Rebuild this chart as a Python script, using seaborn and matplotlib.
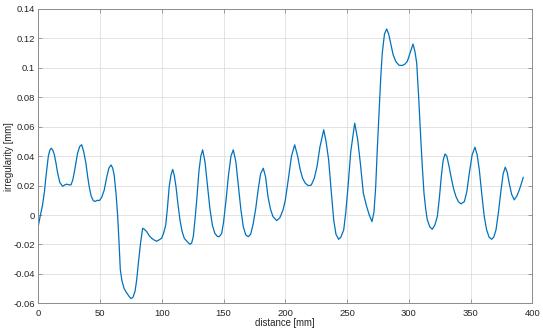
import matplotlib
matplotlib.use("Agg")
import matplotlib.pyplot as plt
import seaborn as sns
import pandas as pd
from matplotlib.ticker import FuncFormatter

# distance [mm]
distance = [
    0, 1.5, 3.5, 5, 6.2, 7.2, 8.1, 9.3, 10.5, 11.8, 13, 14.4, 15.7, 17.5, 19.7,
    21.5, 23, 24.8, 26.5, 28, 30, 31.8, 33.5, 35.1, 36.8, 38.6, 40, 41.3, 42.8,
    44.5, 46, 47.7, 49.4, 51.4, 53.4, 55.5, 57.2, 58.9, 60.2, 61.5, 63, 64.3,
    65.4, 66.4, 67.8, 69.5, 71.6, 73.3, 75, 76.6, 78.3, 79.7, 81, 82.8, 84.5,
    86, 87.8, 89.8, 91.8, 93.8, 95.9, 98, 99.9, 101.6, 103.2, 104.6, 106, 107.4,
    108.8, 110.1, 111.5, 113, 114.7, 116.4, 118.2, 120.5, 122.8, 124.2, 125.5,
    126.9, 128.3, 130.1, 131.6, 133.1, 135, 137, 139, 141, 143, 145, 146.6,
    148.5, 150, 152, 154, 156, 157.9, 160, 162, 164, 166, 168, 170, 172, 174,
    176, 178, 180, 182.2, 184, 186, 188, 190, 193, 195.5, 198, 200, 202.4, 205,
    207.6, 210, 212.1, 214, 216.2, 218.5, 221, 223.5, 225.7, 228, 231.1, 233,
    235.1, 237, 239.2, 241, 243.2, 245, 247.3, 249, 250.8, 253, 256.2, 258.5,
    260.8, 263.2, 265.9, 268, 270.2, 271.8, 273.2, 274.5, 275.9, 277.2, 278.5,
    280.3, 282.1, 283.7, 285.3, 287.3, 289.4, 292, 294.7, 296.8, 298.8, 301,
    303.4, 305, 306.4, 308, 309.6, 311, 312.3, 313.7, 315, 317, 319, 321, 323.1,
    324.8, 326.3, 327.8, 329.3, 330.8, 332.6, 334.2, 336.2, 338.2, 340.2, 342.3,
    345, 347, 349, 351.3, 353.6, 355.3, 357.1, 359, 361.1, 363, 365, 367.1,
    368.8, 370.6, 372.6, 374.7, 376.4, 378.1, 379.7, 381.3, 383.3, 385.4, 387.5,
    389.5, 391, 392.7,
]

# irregularity [mm]
irregularity = [
    -0.0075, -0.001, 0.007, 0.016, 0.026, 0.033, 0.0397, 0.044, 0.0454, 0.044,
    0.041, 0.035, 0.0284, 0.022, 0.0195, 0.0205, 0.021, 0.0205, 0.0205, 0.024,
    0.033, 0.042, 0.0465, 0.0478, 0.043, 0.035, 0.026, 0.019, 0.013, 0.0098,
    0.0092, 0.0100, 0.0098, 0.012, 0.017, 0.026, 0.032, 0.034, 0.032, 0.027,
    0.014, -0.001, -0.019, -0.037, -0.045, -0.050, -0.053, -0.055, -0.0568,
    -0.056, -0.052, -0.044, -0.033, -0.019, -0.009, -0.0098, -0.0113, -0.014,
    -0.0158, -0.017, -0.0178, -0.0168, -0.0158, -0.012, -0.0067, 0.005, 0.0193,
    0.027, 0.031, 0.027, 0.0193, 0.008, -0.0033, -0.011, -0.0158, -0.018,
    -0.0199, -0.019, -0.0147, -0.003, 0.0103, 0.030, 0.040, 0.0443, 0.036,
    0.020, 0.004, -0.007, -0.0125, -0.0145, -0.0147, -0.0124, -0.005, 0.010,
    0.027, 0.040, 0.0443, 0.036, 0.020, 0.004, -0.008, -0.0135, -0.0147, -0.013,
    -0.006, 0.004, 0.017, 0.028, 0.0318, 0.026, 0.0125, 0.004, -0.001, -0.0038,
    -0.002, 0.003, 0.010, 0.024, 0.040, 0.0477, 0.040, 0.0307, 0.025, 0.0216,
    0.020, 0.0203, 0.025, 0.033, 0.046, 0.0579, 0.050, 0.0375, 0.018, -0.0033,
    -0.013, -0.0165, -0.015, -0.0101, 0.002, 0.0193, 0.043, 0.0624, 0.052,
    0.035, 0.0148, 0.0057, 0.000, -0.0045, 0.002, 0.0193, 0.045, 0.0692, 0.092,
    0.110, 0.123, 0.1264, 0.123, 0.1169, 0.109, 0.1044, 0.1018, 0.1016, 0.1025,
    0.1044, 0.110, 0.1162, 0.111, 0.1033, 0.080, 0.0533, 0.032, 0.0148, 0.004,
    -0.0033, -0.008, -0.0097, -0.007, -0.0011, 0.012, 0.0261, 0.037, 0.0415,
    0.040, 0.033, 0.0261, 0.018, 0.0125, 0.009, 0.0076, 0.0091, 0.016, 0.0284,
    0.041, 0.0461, 0.041, 0.0307, 0.015, -0.0011, -0.010, -0.015, -0.0165,
    -0.015, -0.0101, 0.002, 0.0171, 0.028, 0.0325, 0.029, 0.0216, 0.014, 0.0103,
    0.013, 0.0171, 0.021, 0.0257,
]

x_ticks = [0, 50, 100, 150, 200, 250, 300, 350, 400]
y_ticks = [-0.06, -0.04, -0.02, 0, 0.02, 0.04, 0.06, 0.08, 0.1, 0.12, 0.14]

sns.set_theme(style="white")
plt.rcParams['font.family'] = ['Liberation Sans', 'DejaVu Sans']
plt.rcParams['axes.unicode_minus'] = False

df = pd.DataFrame({"distance": distance, "irregularity": irregularity})

fig = plt.figure(figsize=(5.43, 3.32), dpi=100)
ax = fig.add_axes([0.0705, 0.0864, 0.9098, 0.8865])

sns.lineplot(data=df, x="distance", y="irregularity", ax=ax, color="#0072BD",
             linewidth=0.9, sort=False, estimator=None)

ax.set_xlim(0, 400)
ax.set_ylim(-0.06, 0.14)
ax.set_xticks(x_ticks)
ax.set_yticks(y_ticks)
ax.yaxis.set_major_formatter(FuncFormatter(lambda v, p: f"{v:g}" if abs(v) > 1e-12 else "0"))
ax.grid(True, color="#dedede", linewidth=0.6)
ax.set_axisbelow(True)
for s in ax.spines.values():
    s.set_visible(True)
    s.set_color("#8c8c8c")
    s.set_linewidth(0.7)
ax.tick_params(axis="both", which="both", direction="in", length=3, width=0.6,
               colors="#8c8c8c", labelcolor="#262626", labelsize=6.8,
               top=True, right=True, bottom=True, left=True)
ax.tick_params(axis="x", pad=4)
ax.tick_params(axis="y", pad=2.5)
ax.set_xlabel("distance [mm]", fontsize=6.9, color="#262626")
ax.set_ylabel("irregularity [mm]", fontsize=6.9, color="#262626")
ax.xaxis.set_label_coords(0.5, -0.050)
ax.yaxis.set_label_coords(-0.050, 0.5)

fig.savefig("out.png", dpi=100, facecolor="white")
